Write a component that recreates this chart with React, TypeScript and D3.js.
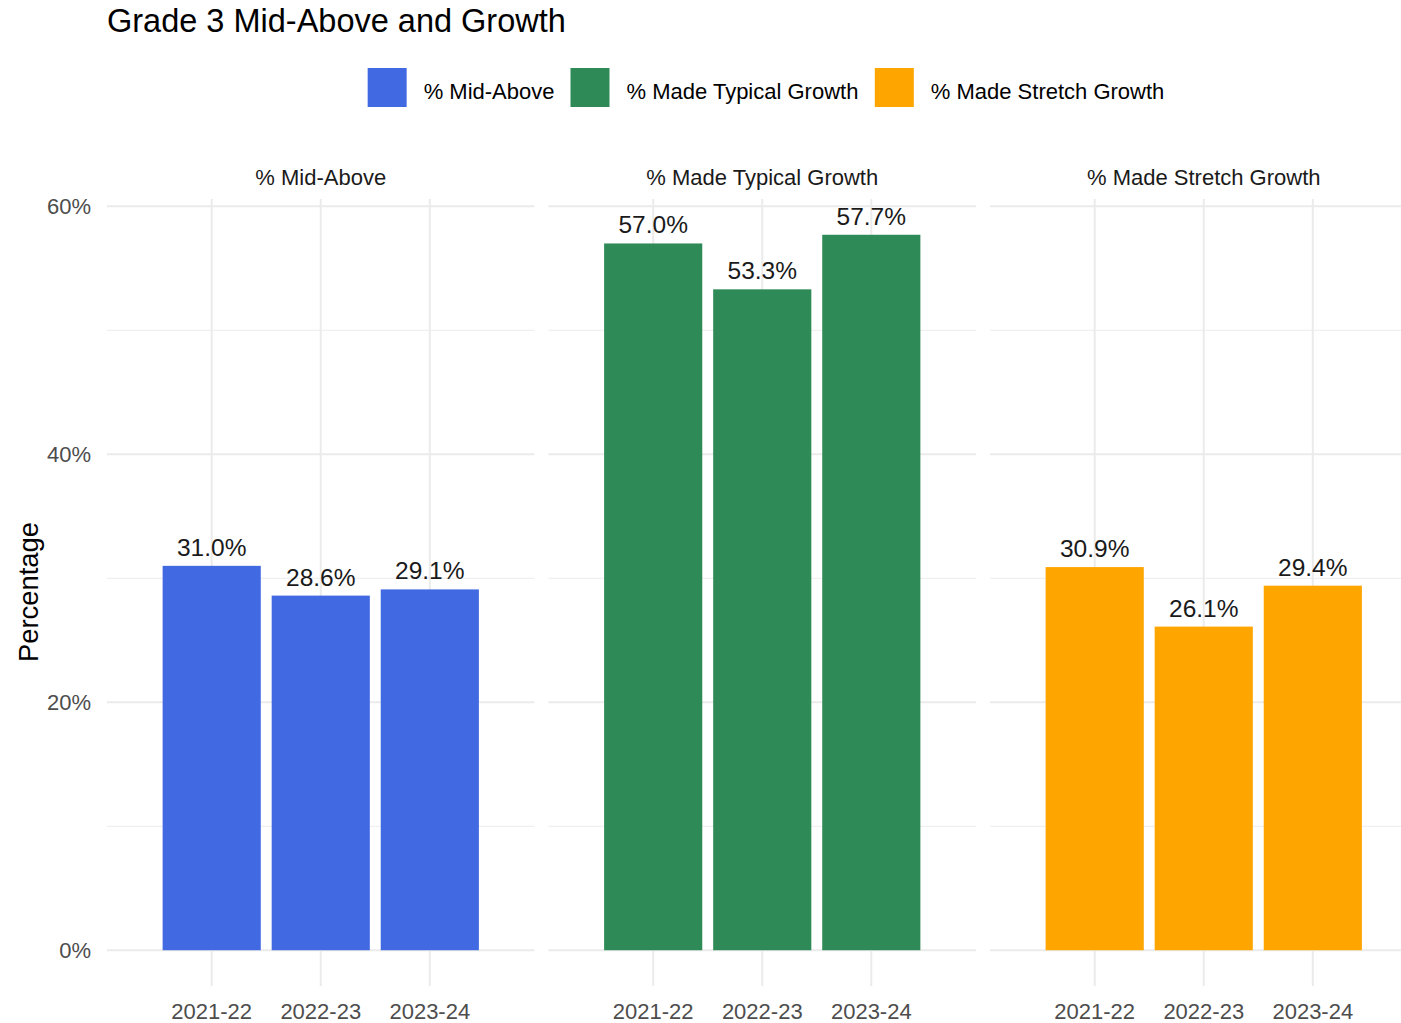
import React from "react";
import * as d3 from "d3";

const years = ["2021-22", "2022-23", "2023-24"];
const metrics = ["% Mid-Above", "% Made Typical Growth", "% Made Stretch Growth"];
const colors = ["#4169E1", "#2E8B57", "#FFA500"];
const midAbove = [31.0, 28.6, 29.1];
const typicalGrowth = [57.0, 53.3, 57.7];
const stretchGrowth = [30.9, 26.1, 29.4];
const yTicks = [0, 20, 40, 60];
const yMinorTicks = [10, 30, 50];

const seriesValues = [midAbove, typicalGrowth, stretchGrowth];

const W = 1401;
const H = 1023;
const FONT = "'Liberation Sans', Arial, Helvetica, sans-serif";

// measure text width for legend layout
const measure = (() => {
  const canvas = typeof document !== "undefined" ? document.createElement("canvas") : null;
  const ctx = canvas ? canvas.getContext("2d") : null;
  return (txt: string, size: number) => {
    if (!ctx) return txt.length * size * 0.5;
    ctx.font = `${size}px 'Liberation Sans', Arial, sans-serif`;
    return ctx.measureText(txt).width;
  };
})();

const App = () => {
  const maxV = d3.max(seriesValues.flat()) as number;
  const pad = maxV * 0.05;
  const panelTop = 199;
  const panelBottom = 986;
  const y = d3.scaleLinear().domain([-pad, maxV + pad]).range([panelBottom, panelTop]);

  const panelLeft0 = 107;
  const panelW = 427.5;
  const panelGap = 14;
  const panelX = d3
    .scalePoint<string>()
    .domain(metrics)
    .range([panelLeft0, panelLeft0 + 2 * (panelW + panelGap)]);

  const x = d3.scalePoint<string>().domain(years).range([0, panelW]).padding(0.96);
  const barW = x.step() * 0.9;

  // legend layout
  const keySize = 39;
  const legendFont = 22;
  const itemWidths = metrics.map((m) => keySize + 17 + measure(m, legendFont));
  const legendTotal = d3.sum(itemWidths) + 16 * (metrics.length - 1);
  const legendStart = 766 - legendTotal / 2;
  let acc = legendStart;
  const legendPos = itemWidths.map((w) => {
    const p = acc;
    acc += w + 16;
    return p;
  });

  return (
    <svg
      width={W}
      height={H}
      style={{ position: "absolute", left: 0, top: 0, background: "#fff" }}
      fontFamily={FONT}
    >
      <rect width={W} height={H} fill="#fff" />
      <text x={107} y={32} fontSize={32.5} fill="#000">
        Grade 3 Mid-Above and Growth
      </text>

      {/* legend */}
      {metrics.map((m, i) => (
        <g key={m} transform={`translate(${legendPos[i]},68)`}>
          <rect width={keySize} height={keySize} fill={colors[i]} />
          <text x={keySize + 17} y={keySize / 2 + 11} fontSize={legendFont} fill="#000">
            {m}
          </text>
        </g>
      ))}

      {/* y axis title */}
      <text
        transform={`translate(38,592) rotate(-90)`}
        textAnchor="middle"
        fontSize={27.4}
        fill="#000"
      >
        Percentage
      </text>

      {/* y tick labels */}
      {yTicks.map((t) => (
        <text
          key={t}
          x={91}
          y={y(t) + 8}
          textAnchor="end"
          fontSize={22}
          fill="#4d4d4d"
        >
          {`${t}%`}
        </text>
      ))}

      {metrics.map((m, pi) => {
        const px = panelX(m) as number;
        const vals = seriesValues[pi];
        return (
          <g key={m} transform={`translate(${px},0)`}>
            {/* strip */}
            <text
              x={panelW / 2}
              y={185}
              textAnchor="middle"
              fontSize={22}
              fill="#1a1a1a"
            >
              {m}
            </text>
            {/* grid */}
            {yMinorTicks.map((t) => (
              <line
                key={"mn" + t}
                x1={0}
                x2={panelW}
                y1={y(t)}
                y2={y(t)}
                stroke="#ebebeb"
                strokeWidth={1}
              />
            ))}
            {yTicks.map((t) => (
              <line
                key={"mj" + t}
                x1={0}
                x2={panelW}
                y1={y(t)}
                y2={y(t)}
                stroke="#ebebeb"
                strokeWidth={2}
              />
            ))}
            {years.map((yr) => (
              <line
                key={"vx" + yr}
                x1={x(yr)}
                x2={x(yr)}
                y1={panelTop}
                y2={panelBottom}
                stroke="#ebebeb"
                strokeWidth={2}
              />
            ))}
            {/* bars */}
            {years.map((yr, i) => (
              <rect
                key={"b" + yr}
                x={(x(yr) as number) - barW / 2}
                y={y(vals[i])}
                width={barW}
                height={y(0) - y(vals[i])}
                fill={colors[pi]}
              />
            ))}
            {/* value labels */}
            {years.map((yr, i) => (
              <text
                key={"l" + yr}
                x={x(yr)}
                y={y(vals[i]) - 10}
                textAnchor="middle"
                fontSize={24.5}
                fill="#1a1a1a"
              >
                {`${vals[i].toFixed(1)}%`}
              </text>
            ))}
            {/* x tick labels */}
            {years.map((yr) => (
              <text
                key={"t" + yr}
                x={x(yr)}
                y={1019}
                textAnchor="middle"
                fontSize={22}
                fill="#4d4d4d"
              >
                {yr}
              </text>
            ))}
          </g>
        );
      })}
    </svg>
  );
};

export default App;
